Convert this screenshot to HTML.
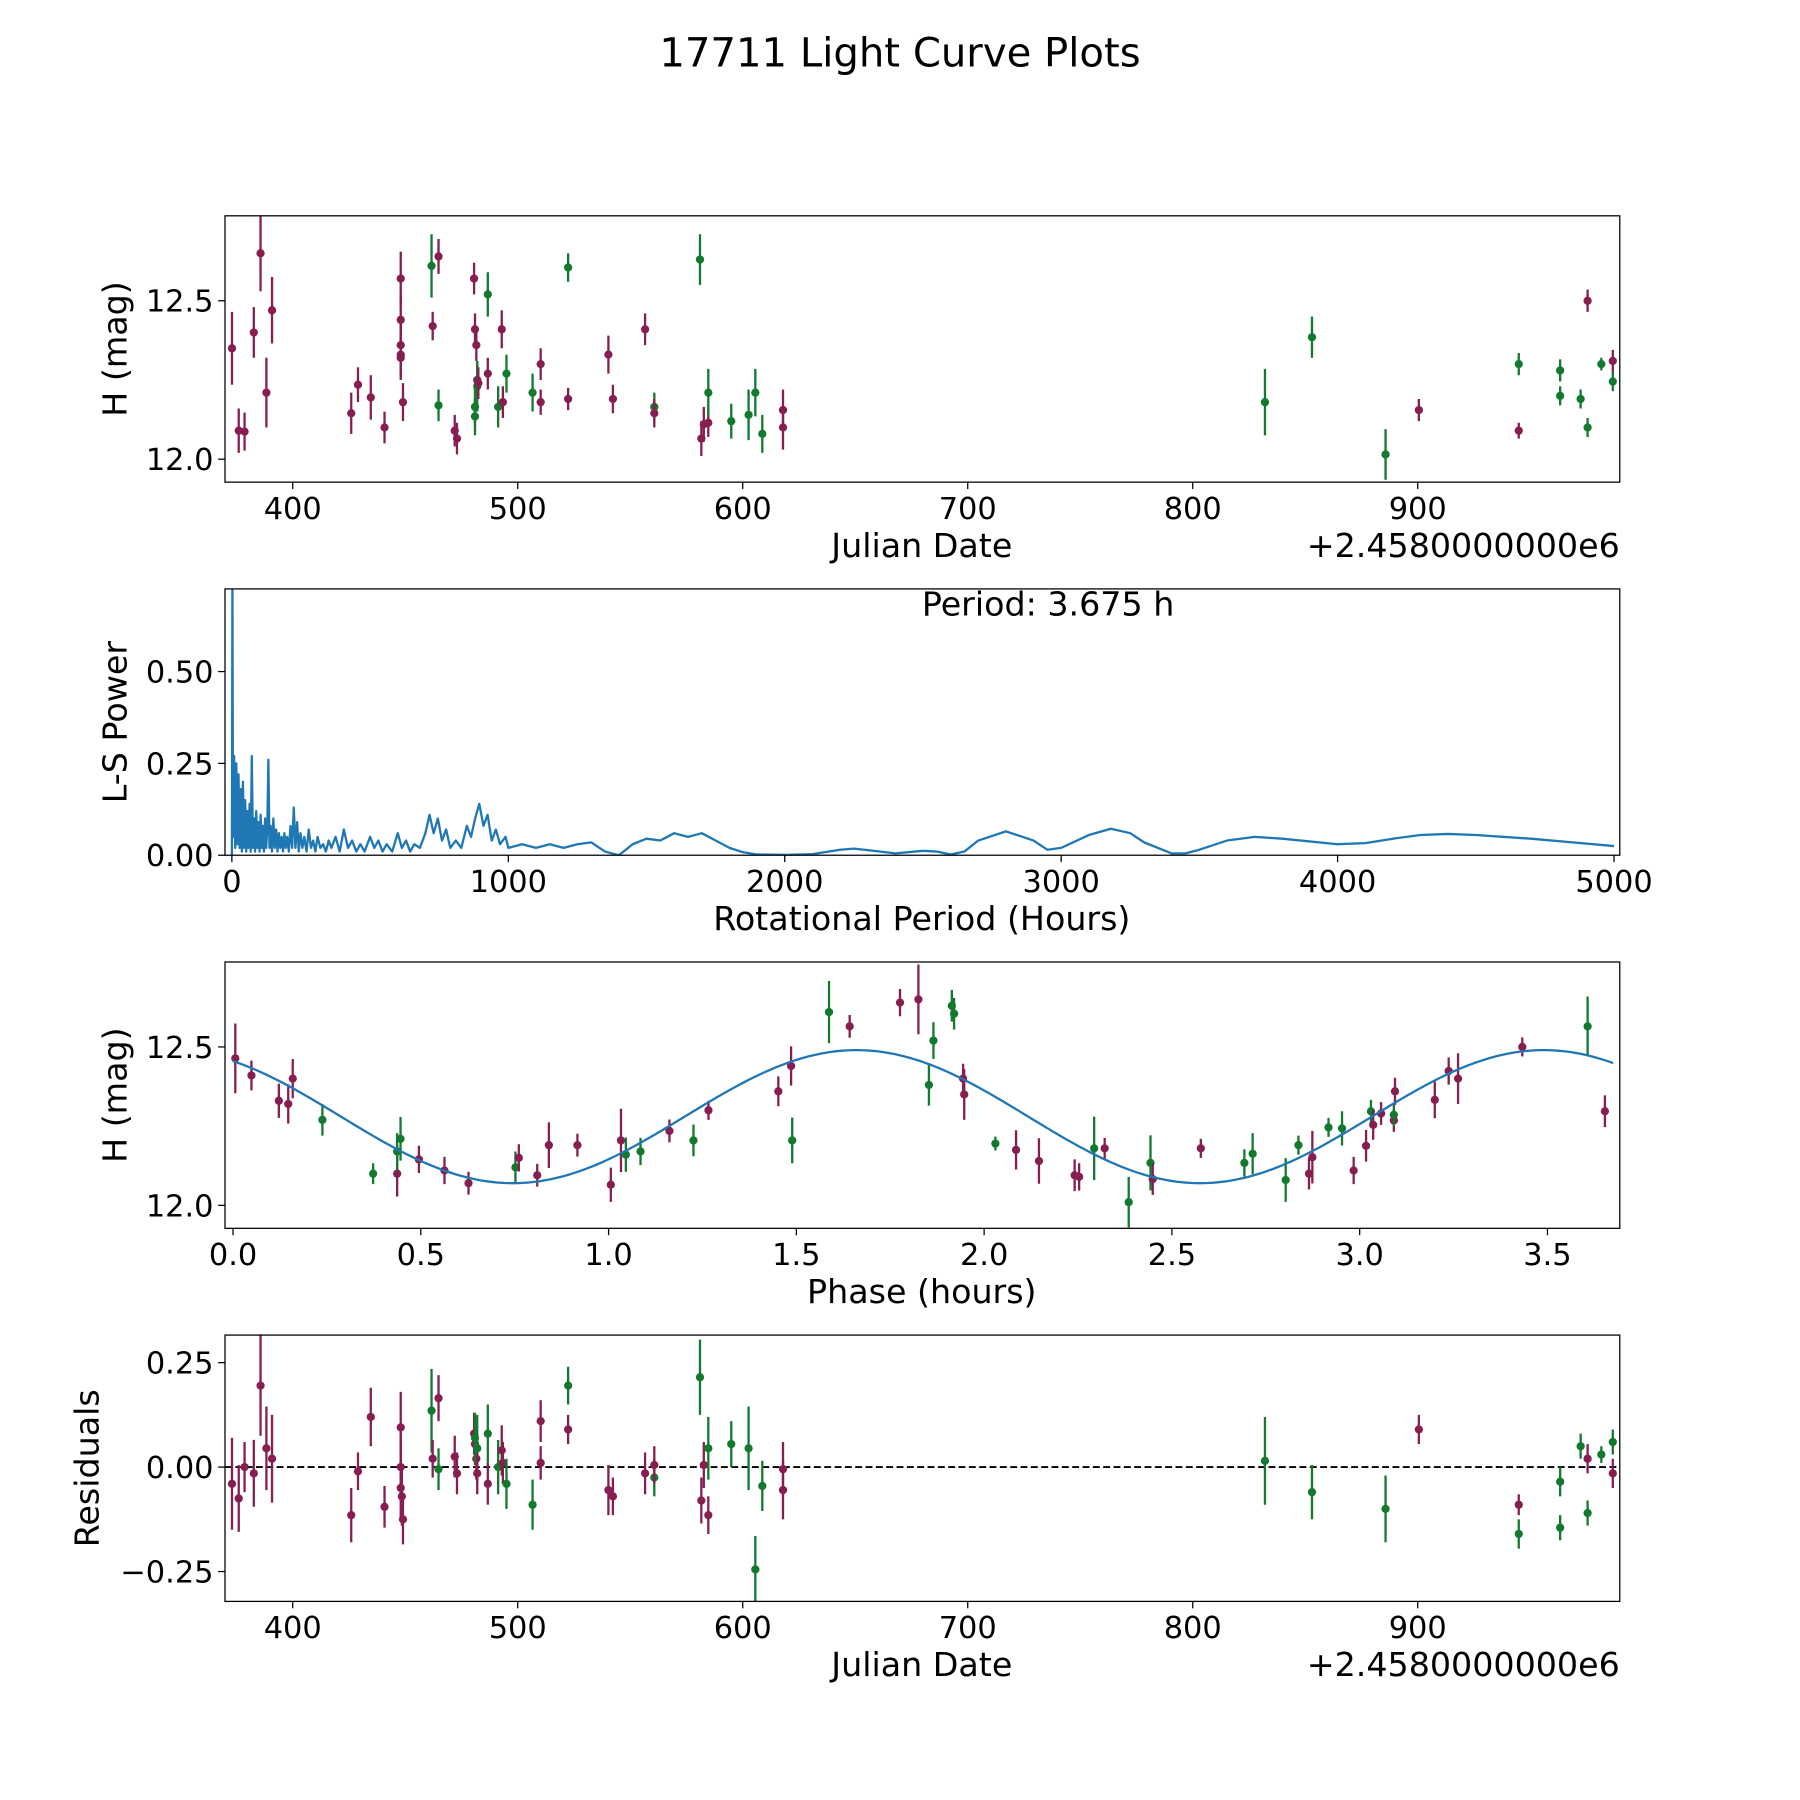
<!DOCTYPE html>
<html><head><meta charset="utf-8"><style>
html,body{margin:0;padding:0;background:#fff}
svg{display:block}
text{font-family:"DejaVu Sans","Liberation Sans",sans-serif;fill:#000}
</style></head><body>
<svg id="fig" width="1800" height="1800" viewBox="0 0 1568 1568" xmlns="http://www.w3.org/2000/svg">
<text x="784" y="58" font-size="35" text-anchor="middle">17711 Light Curve Plots</text>
</svg>
<script>
const lcJD  = [373,376,378.6,382.7,385.7,388.3,390.8,426,429,434.7,440.8,448,448,448,448,448,449,461.7,462.2,464.8,464.8,472,473,480.6,481,481.6,482,482,481,481,482.5,486.7,486.7,491.3,492.9,493.4,495,506.6,510.2,510.2,522.4,522.4,540.3,542.3,556.6,560.7,560.7,581,581.6,582.7,584.7,584.7,594.9,602.6,605.6,608.7,617.9,617.9,832.1,853,885.7,900.5,944.9,944.9,963.3,963.3,972.4,975.5,975.5,981.6,986.7,986.7];
const lcMag = [12.35,12.09,12.087,12.40,12.65,12.21,12.47,12.145,12.235,12.195,12.10,12.57,12.44,12.36,12.33,12.32,12.18,12.61,12.42,12.64,12.17,12.09,12.065,12.57,12.41,12.36,12.25,12.23,12.165,12.135,12.24,12.52,12.27,12.165,12.41,12.18,12.27,12.21,12.30,12.18,12.605,12.19,12.33,12.19,12.41,12.165,12.145,12.63,12.065,12.11,12.115,12.21,12.12,12.14,12.21,12.08,12.155,12.10,12.18,12.385,12.015,12.155,12.09,12.30,12.28,12.20,12.19,12.50,12.10,12.30,12.31,12.245];
const lcErr = [0.115,0.07,0.06,0.08,0.12,0.11,0.105,0.065,0.055,0.07,0.05,0.085,0.08,0.07,0.07,0.07,0.06,0.1,0.045,0.055,0.05,0.05,0.05,0.05,0.05,0.05,0.05,0.08,0.06,0.06,0.05,0.07,0.05,0.065,0.06,0.05,0.06,0.06,0.05,0.04,0.045,0.035,0.06,0.045,0.05,0.045,0.045,0.08,0.055,0.055,0.045,0.075,0.055,0.08,0.075,0.06,0.065,0.07,0.105,0.065,0.08,0.035,0.025,0.035,0.035,0.03,0.03,0.035,0.03,0.02,0.035,0.03];
const lcFlt = "PPPPPPPPPPPPPPPPPGPPGPPPPPPGGGPGPGPPGGPPGPPPPGPGPPPGGGGGPPGGGPPGGGGPGGPG";

const lsPeriod = [0,2,4,8,12,16,20,24,28,32,36,40,44,48,52,56,60,64,68,72,76,80,84,88,92,96,100,104,108,112,116,120,124,128,132,136,140,145,150,155,160,165,170,175,180,185,190,195,200,206,212,218,224,230,236,242,248,255,262,270,278,286,294,302,310,320,330,340,350,360,375,390,405,420,435,450,465,480,500,515,530,545,560,580,600,615,630,645,660,680,700,715,730,745,760,775,790,810,830,850,865,880,895,910,925,940,955,970,990,1000,1050,1100,1150,1200,1250,1300,1350,1400,1450,1500,1550,1600,1650,1700,1750,1800,1850,1900,2000,2100,2200,2250,2300,2400,2500,2550,2600,2650,2700,2800,2900,2950,3000,3100,3180,3250,3300,3400,3450,3500,3600,3700,3800,4000,4100,4200,4300,4400,4500,4700,4850,5000];
const lsPower = [0,0.74,0.05,0.27,0.02,0.25,0.03,0.22,0.02,0.18,0.01,0.2,0.02,0.15,0.01,0.12,0.02,0.14,0.01,0.27,0.02,0.1,0.01,0.12,0.02,0.09,0.01,0.11,0.02,0.08,0.01,0.1,0.02,0.07,0.26,0.02,0.08,0.01,0.1,0.02,0.07,0.01,0.06,0.02,0.05,0.01,0.06,0.02,0.05,0.01,0.08,0.02,0.13,0.02,0.09,0.01,0.06,0.02,0.05,0.01,0.07,0.02,0.04,0.01,0.05,0.02,0.03,0.01,0.04,0.02,0.05,0.01,0.07,0.02,0.04,0.01,0.03,0.01,0.05,0.02,0.04,0.01,0.03,0.01,0.06,0.02,0.04,0.01,0.03,0.02,0.06,0.11,0.06,0.1,0.04,0.07,0.02,0.04,0.02,0.08,0.05,0.1,0.14,0.08,0.11,0.04,0.07,0.03,0.05,0.02,0.03,0.02,0.03,0.02,0.03,0.035,0.01,0.0,0.03,0.045,0.04,0.06,0.05,0.06,0.04,0.02,0.008,0.002,0.001,0.003,0.015,0.018,0.014,0.005,0.012,0.01,0.002,0.01,0.04,0.065,0.04,0.015,0.02,0.055,0.072,0.06,0.035,0.005,0.005,0.015,0.04,0.05,0.045,0.03,0.033,0.045,0.055,0.058,0.055,0.045,0.035,0.025];
const lsLabel = "Period: 3.675 h";

const phX   = [0.006,0.049,0.122,0.147,0.159,0.238,0.373,0.437,0.437,0.446,0.495,0.563,0.627,0.752,0.761,0.81,0.841,0.917,1.006,1.033,1.046,1.085,1.162,1.226,1.266,1.452,1.486,1.489,1.587,1.642,1.776,1.825,1.853,1.865,1.914,1.92,1.944,1.947,2.03,2.085,2.146,2.293,2.321,2.241,2.253,2.385,2.443,2.449,2.577,2.693,2.715,2.803,2.837,2.865,2.874,2.917,2.953,2.984,3.017,3.03,3.036,3.057,3.091,3.091,3.094,3.2,3.237,3.262,3.433,3.607,3.653];
const phMag = [12.464,12.41,12.33,12.32,12.40,12.27,12.10,12.10,12.17,12.21,12.145,12.11,12.07,12.12,12.15,12.095,12.19,12.19,12.065,12.205,12.16,12.17,12.235,12.205,12.30,12.36,12.44,12.205,12.61,12.565,12.64,12.65,12.38,12.52,12.63,12.605,12.40,12.35,12.195,12.175,12.14,12.18,12.18,12.095,12.09,12.01,12.134,12.083,12.18,12.134,12.163,12.08,12.19,12.10,12.152,12.246,12.243,12.11,12.188,12.297,12.254,12.29,12.268,12.286,12.36,12.333,12.424,12.40,12.50,12.565,12.297];
const phErr = [0.11,0.047,0.054,0.062,0.062,0.05,0.033,0.072,0.058,0.069,0.043,0.043,0.036,0.05,0.043,0.036,0.072,0.036,0.054,0.1,0.054,0.043,0.036,0.05,0.03,0.047,0.062,0.072,0.098,0.036,0.043,0.11,0.065,0.058,0.05,0.05,0.047,0.08,0.022,0.062,0.072,0.1,0.033,0.05,0.043,0.08,0.087,0.05,0.03,0.043,0.065,0.069,0.03,0.05,0.083,0.03,0.054,0.043,0.05,0.036,0.047,0.036,0.036,0.036,0.043,0.058,0.043,0.08,0.03,0.094,0.05];
const phFlt = "PPPPPGGPGGPPPGPPPPPPGGPGPPPGGPPPGGGGPPGPPGPPPGGPPGGGGPPGGPPGPPPGPPPPPG";
const fitMean = 12.28, fitAmp = 0.21, fitPeriod = 1.83, fitPeak = 1.66, fitEnd = 3.675;

const rsJD  = [373,376,378.6,382.7,385.7,388.3,390.8,426,429,434.7,440.8,448,448,448,448.5,449,461.7,462.2,464.8,464.8,472,473,480.6,481,481.6,482,481,482,486.7,486.7,491.3,492.9,493.4,495,506.6,510.2,510.2,522.4,522.4,540.3,542.3,556.6,560.7,560.7,581,581.6,582.7,584.7,584.7,594.9,602.6,605.6,608.7,617.9,617.9,832.1,853,885.7,900.5,944.9,944.9,963.3,963.3,972.4,975.5,975.5,981.6,986.7,986.7];
const rsVal = [-0.04,-0.075,0,-0.015,0.195,0.045,0.02,-0.115,-0.01,0.12,-0.095,0.095,0,-0.05,-0.07,-0.125,0.135,0.02,0.165,-0.005,0.025,-0.015,0.08,0.055,0.02,0.045,0.07,-0.015,0.08,-0.04,0,0.04,0.01,-0.04,-0.09,0.11,0.01,0.195,0.09,-0.055,-0.07,-0.015,-0.025,0.005,0.215,-0.08,0.005,-0.115,0.045,0.055,0.045,-0.245,-0.045,-0.005,-0.055,0.015,-0.06,-0.1,0.09,-0.09,-0.16,-0.035,-0.145,0.05,0.02,-0.11,0.03,-0.015,0.06];
const rsErr = [0.11,0.08,0.06,0.08,0.12,0.1,0.105,0.065,0.045,0.07,0.05,0.085,0.08,0.07,0.07,0.06,0.1,0.045,0.055,0.05,0.05,0.05,0.05,0.05,0.05,0.08,0.06,0.05,0.07,0.05,0.065,0.06,0.05,0.06,0.06,0.05,0.04,0.045,0.035,0.06,0.045,0.05,0.045,0.045,0.09,0.055,0.055,0.045,0.075,0.055,0.1,0.08,0.06,0.065,0.07,0.105,0.065,0.08,0.035,0.025,0.035,0.035,0.03,0.03,0.035,0.03,0.02,0.035,0.03];
const rsFlt = "PPPPPPPPPPPPPPPPGPPGPPPPPGGPGPGPPGGPPGPPPPGPGPPPGGGGGPPGGGPPGGGGPGGPG";

const xTicksJD = [400,500,600,700,800,900];
const yTicksLC = [12.0,12.5];
const xTicksLS = [0,1000,2000,3000,4000,5000];
const yTicksLS = [0,0.25,0.5];
const xTicksPh = [0,0.5,1,1.5,2,2.5,3,3.5];
const yTicksRs = [-0.25,0,0.25];

const NS = "http://www.w3.org/2000/svg";
const svg = document.getElementById('fig');
const COL = {P:'#861e51', G:'#12792f'};
function mk(tag, attrs, parent){const e=document.createElementNS(NS,tag);for(const k in attrs)e.setAttribute(k,attrs[k]);(parent||svg).appendChild(e);return e;}
function scale(d0,d1,r0,r1){return v=>r0+(v-d0)*(r1-r0)/(d1-d0);}

const L=196,R=1411,TF=26.5,LF=29;
function frame(top,bot,name){
  const g=mk('g',{});
  
  
  return g;
}
function box(g,top,bot){mk('rect',{x:L,y:top,width:R-L,height:bot-top,fill:'none',stroke:'#000','stroke-width':1.1},g);}
function xticks(g,ticks,fx,bot,fmt){
  ticks.forEach(t=>{const x=fx(t);
    mk('line',{x1:x,x2:x,y1:bot,y2:bot+6,stroke:'#000','stroke-width':1.1},g);
    const tx=mk('text',{x:x,y:bot+32,'font-size':TF,'text-anchor':'middle'},g);tx.textContent=fmt(t);
    
    });
}
function yticks(g,ticks,fy,fmt){
  ticks.forEach(t=>{const y=fy(t);
    mk('line',{x1:L-6,x2:L,y1:y,y2:y,stroke:'#000','stroke-width':1.1},g);
    const tx=mk('text',{x:L-10,y:y+9.5,'font-size':TF,'text-anchor':'end'},g);tx.textContent=fmt(t);
    
    });
}
function label(g,txt,x,y,rot,name){
  const t=mk('text',{x:x,y:y,'font-size':LF,'text-anchor':'middle'},g);
  if(rot)t.setAttribute('transform','rotate(-90 '+x+' '+y+')');
  t.textContent=txt;
  
  
}
function errpts(g,xs,ys,es,fl,fx,fy,top,bot){
  const clip='c'+top;
  const cp=mk('clipPath',{id:clip},g);mk('rect',{x:L,y:top,width:R-L,height:bot-top},cp);
  const gg=mk('g',{'clip-path':'url(#'+clip+')'},g);
  xs.forEach((v,i)=>{const x=fx(v),y=fy(ys[i]),c=COL[fl[i]]||COL.P;
    const ln=mk('line',{x1:x,x2:x,y1:fy(ys[i]-es[i]),y2:fy(ys[i]+es[i]),stroke:c,'stroke-width':2},gg);
    
    
    const p=mk('circle',{cx:x,cy:y,r:3.6,fill:c},gg);
    
    
  });
}
const f2=t=>t.toFixed(2).replace('-','\u2212'), f1=t=>t.toFixed(1), f0=t=>String(t);

(function(){const top=188,bot=420,g=frame(top,bot,'light-curve-panel');
 const fx=scale(400,900,255,1235), fy=scale(12,12.5,400,262);
 errpts(g,lcJD,lcMag,lcErr,lcFlt,fx,fy,top,bot);box(g,top,bot);
 xticks(g,xTicksJD,fx,bot,f0);yticks(g,yTicksLC,fy,f1);
 label(g,'Julian Date',803,485,false,'x-axis-title');
 label(g,'H (mag)',110,304,true,'y-axis-title');
 const o=mk('text',{x:R,y:485,'font-size':LF,'text-anchor':'end'},g);o.textContent='+2.4580000000e6';
 
 
})();

(function(){const top=513,bot=745,g=frame(top,bot,'periodogram-panel');
 const fx=scale(0,5000,202,1406), fy=scale(0,0.25,745,665);
 const cp=mk('clipPath',{id:'cls'},g);mk('rect',{x:L,y:top,width:R-L,height:bot-top},cp);
 let d='';lsPeriod.forEach((p,i)=>{d+=(i?'L':'M')+fx(p).toFixed(2)+' '+fy(lsPower[i]).toFixed(2);});
 const pl=mk('path',{d:d,fill:'none',stroke:'#1f77b4','stroke-width':2,'clip-path':'url(#cls)','stroke-linejoin':'round'},g);
 
 
 box(g,top,bot);
 xticks(g,xTicksLS,fx,bot,f0);yticks(g,yTicksLS,fy,f2);
 label(g,'Rotational Period (Hours)',803,810,false,'x-axis-title');
 label(g,'L-S Power',110,629,true,'y-axis-title');
 const t=mk('text',{x:913,y:536,'font-size':LF,'text-anchor':'middle'},g);t.textContent=lsLabel;
 
 
})();

(function(){const top=838,bot=1070,g=frame(top,bot,'phased-curve-panel');
 const fx=scale(0,3.5,203,1348), fy=scale(12,12.5,1050,912);
 errpts(g,phX,phMag,phErr,phFlt,fx,fy,top,bot);
 let d='';for(let i=0;i<=300;i++){const ph=fitEnd*i/300;const m=fitMean+fitAmp*Math.cos(2*Math.PI*(ph-fitPeak)/fitPeriod);d+=(i?'L':'M')+fx(ph).toFixed(2)+' '+fy(m).toFixed(2);}
 const fl=mk('path',{d:d,fill:'none',stroke:'#1f77b4','stroke-width':2},g);
 
 
 box(g,top,bot);
 xticks(g,xTicksPh,fx,bot,f1);yticks(g,yTicksLC,fy,f1);
 label(g,'Phase (hours)',803,1135,false,'x-axis-title');
 label(g,'H (mag)',110,954,true,'y-axis-title');
})();

(function(){const top=1163,bot=1395,g=frame(top,bot,'residuals-panel');
 const fx=scale(400,900,255,1235), fy=scale(0,0.25,1278,1187);
 const zl=mk('line',{x1:L,x2:R,y1:fy(0),y2:fy(0),stroke:'#000','stroke-width':1.6,'stroke-dasharray':'6,3'},g);
 
 
 errpts(g,rsJD,rsVal,rsErr,rsFlt,fx,fy,top,bot);box(g,top,bot);
 xticks(g,xTicksJD,fx,bot,f0);yticks(g,yTicksRs,fy,f2);
 label(g,'Julian Date',803,1460,false,'x-axis-title');
 label(g,'Residuals',86,1279,true,'y-axis-title');
 const o=mk('text',{x:R,y:1460,'font-size':LF,'text-anchor':'end'},g);o.textContent='+2.4580000000e6';
 
 
})();
</script>
</body></html>
